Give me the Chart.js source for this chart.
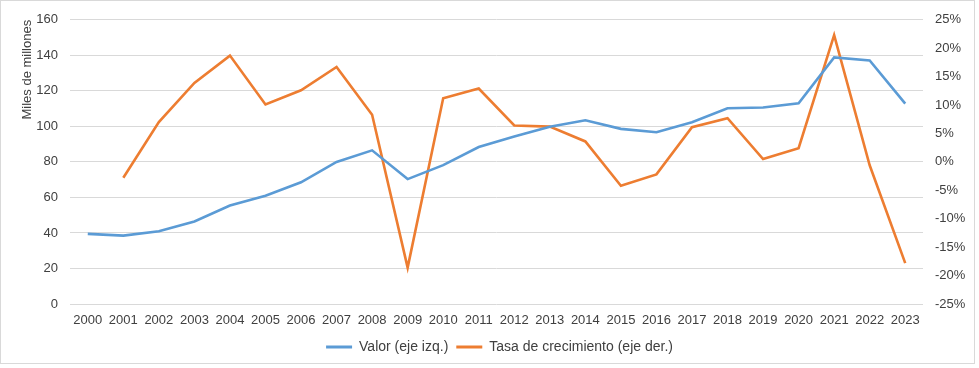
<!DOCTYPE html>
<html>
<head>
<meta charset="utf-8">
<script src="https://cdn.jsdelivr.net/npm/chart.js@4.4.1/dist/chart.umd.min.js"></script>
<style>
html,body{margin:0;padding:0;background:#fff;}
#wrap{position:absolute;left:0;top:0;width:979px;height:368px;}
#frame{position:absolute;left:0;top:0;width:973px;height:362px;border:1px solid #d9d9d9;pointer-events:none;}
</style>
</head>
<body>
<div id="wrap"><canvas id="c" width="979" height="368"></canvas><div id="frame"></div></div>
<script>
const years = ['2000','2001','2002','2003','2004','2005','2006','2007','2008','2009','2010','2011','2012','2013','2014','2015','2016','2017','2018','2019','2020','2021','2022','2023'];
const valor = [39.5,38.5,41,46.5,55.4,61,68.5,80,86.5,70.3,78.2,88.4,94.3,99.8,103.4,98.6,96.7,102.3,110.2,110.6,113,138.8,137.1,112.8];
const tasa = [null,-2.8,7.0,13.9,18.7,10.1,12.6,16.7,8.3,-18.6,11.2,12.9,6.4,6.2,3.6,-4.2,-2.2,6.1,7.7,0.5,2.4,22.3,-0.6,-17.8];
const leftTicks = [0,20,40,60,80,100,120,140,160];
const rightTicks = [-25,-20,-15,-10,-5,0,5,10,15,20,25];

const txt = '#404040';
const font = {family:'"Liberation Sans", Arial, sans-serif', size:13};
const legFont = {family:'"Liberation Sans", Arial, sans-serif', size:14};

new Chart(document.getElementById('c'), {
  type:'line',
  data:{
    labels: years,
    datasets:[
      {label:'Valor (eje izq.)', data: valor, yAxisID:'y', borderColor:'#5B9BD5', backgroundColor:'#5B9BD5', borderWidth:2.6, pointRadius:0, tension:0},
      {label:'Tasa de crecimiento (eje der.)', data: tasa, yAxisID:'y1', borderColor:'#ED7D31', backgroundColor:'#ED7D31', borderWidth:2.6, pointRadius:0, tension:0}
    ]
  },
  options:{
    responsive:false,
    animation:false,
    layout:{padding:{top:14,left:20,right:0,bottom:4}},
    plugins:{
      legend:{
        position:'bottom',
        labels:{
          color:txt, font:legFont, boxWidth:26, boxHeight:3, padding:8,
          generateLabels(chart){
            return chart.data.datasets.map((d,i)=>({text:d.label, fillStyle:d.borderColor, strokeStyle:d.borderColor, lineWidth:0, datasetIndex:i, fontColor:txt}));
          }
        }
      },
      tooltip:{enabled:false}
    },
    scales:{
      x:{
        offset:true,
        grid:{display:false, drawTicks:false},
        border:{display:false},
        ticks:{color:txt, font:font, padding:9, maxRotation:0, autoSkip:false},
        afterFit(s){ s.height = 28; }
      },
      y:{
        position:'left',
        min:0, max:160,
        afterBuildTicks(s){ s.ticks = leftTicks.map(v=>({value:v})); },
        grid:{color:'#d9d9d9', drawTicks:false, lineWidth:1},
        border:{display:false},
        ticks:{color:txt, font:font, padding:12},
        title:{display:true, text:'Miles de millones', color:txt, font:font, align:'end', padding:{top:0,bottom:6}},
        afterFit(s){ s.width = 50; }
      },
      y1:{
        position:'right',
        min:-25, max:25,
        afterBuildTicks(s){ s.ticks = rightTicks.map(v=>({value:v})); },
        grid:{display:false, drawTicks:false},
        border:{display:false},
        ticks:{color:txt, font:font, padding:12, callback:v=>v+'%'},
        afterFit(s){ s.width = 56; }
      }
    }
  }
});
</script>
</body>
</html>
